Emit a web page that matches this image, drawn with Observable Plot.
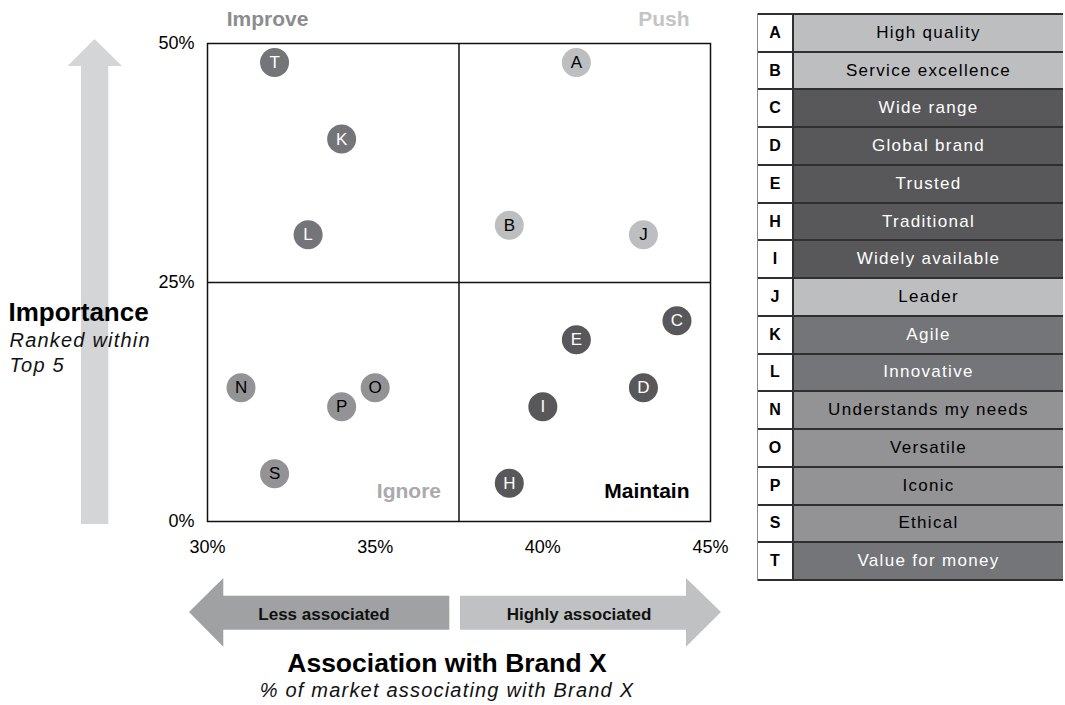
<!DOCTYPE html>
<html>
<head>
<meta charset="utf-8">
<script src="https://cdn.jsdelivr.net/npm/d3@7"></script>
<script src="https://cdn.jsdelivr.net/npm/@observablehq/plot@0.6"></script>
<style>
  body { margin: 0; background: #fff; font-family: "Liberation Sans", Arial, sans-serif; }
  #chart { position: relative; width: 1065px; height: 705px; overflow: hidden; }
  #chart > svg { position: absolute; left: 0; top: 0; }
  #key {
    position: absolute; left: 757px; top: 13px; width: 306px; height: 568px;
    display: grid; grid-template-columns: 34px 1fr; grid-template-rows: repeat(15, 1fr);
    column-gap: 2px; row-gap: 2px; padding: 2px 0 2px 0; box-sizing: border-box;
    background: #2f2f2f; border-left: 1px solid #8a8a8a;
  }
  #key .code {
    background: #fff; color: #000; font-weight: bold; font-size: 16px;
    display: flex; align-items: center; justify-content: center;
  }
  #key .name {
    font-size: 17px; letter-spacing: 1.3px;
    display: flex; align-items: center; justify-content: center;
  }
</style>
</head>
<body>
<div id="chart"></div>
<script>
// Brand attributes: code, description, association with Brand X (%), importance (% ranking in top 5)
const codes = ["A", "B", "C", "D", "E", "H", "I", "J", "K", "L", "N", "O", "P", "S", "T"];
const attributes = [
  "High quality", "Service excellence", "Wide range", "Global brand", "Trusted",
  "Traditional", "Widely available", "Leader", "Agile", "Innovative",
  "Understands my needs", "Versatile", "Iconic", "Ethical", "Value for money"
];
const association = [41, 39, 44, 43, 41, 39, 40, 43, 34, 33, 31, 35, 34, 32, 32];
const importance  = [48, 31, 21, 14, 19,  4, 12, 30, 40, 30, 14, 14, 12,  5, 48];

// Axis ticks and quadrant split points
const xTicks = [30, 35, 40, 45];
const yTicks = [0, 25, 50];
const splitX = 37.5;
const splitY = 25;

// Quadrants and their colours
const quadrants = ["Push", "Maintain", "Improve", "Ignore"];
const quadrantFill = ["#bdbec0", "#58585a", "#747578", "#939395"];
const quadrantInk  = ["#000", "#fff", "#fff", "#000"];

const points = codes.map((code, i) => ({code, name: attributes[i], x: association[i], y: importance[i]}));
const quadrantOf = d => d.x >= splitX ? (d.y >= splitY ? "Push" : "Maintain") : (d.y >= splitY ? "Improve" : "Ignore");
const fillOf = d3.scaleOrdinal(quadrants, quadrantFill);
const inkOf = d3.scaleOrdinal(quadrants, quadrantInk);
const lightInk = d => inkOf(quadrantOf(d)) === "#fff";

const font = '"Liberation Sans", Arial, sans-serif';

const plot = Plot.plot({
  width: 750,
  height: 705,
  marginLeft: 207,
  marginRight: 40,
  marginTop: 43,
  marginBottom: 184,
  style: {fontFamily: font, fontSize: "18px", color: "#000", background: "transparent", overflow: "visible"},
  x: {domain: [30, 45]},
  y: {domain: [0, 50]},
  color: {domain: quadrants, range: quadrantFill},
  marks: [
    Plot.axisX({ticks: xTicks, tickFormat: d => d + "%", tickSize: 0, tickPadding: 19, label: null, fontSize: 18}),
    Plot.axisY({ticks: yTicks, tickFormat: d => d + "%", tickSize: 0, tickPadding: 13, label: null, fontSize: 18}),
    Plot.ruleX([splitX], {stroke: "#111", strokeWidth: 1.5}),
    Plot.ruleY([splitY], {stroke: "#111", strokeWidth: 1.5}),
    Plot.frame({stroke: "#111", strokeWidth: 1.5}),

    // quadrant names
    Plot.text(["Improve"], {text: d => d, frameAnchor: "top-left", dx: 60, dy: -18, lineAnchor: "bottom",
      textAnchor: "middle", fontWeight: "bold", fontSize: 21, fill: "#8c8c8e"}),
    Plot.text(["Push"], {text: d => d, frameAnchor: "top-right", dx: -21, dy: -18, lineAnchor: "bottom",
      textAnchor: "end", fontWeight: "bold", fontSize: 21, fill: "#c4c4c6"}),
    Plot.text(["Ignore"], {text: d => d, x: () => splitX, y: () => 0, dx: -18, dy: -24, lineAnchor: "bottom",
      textAnchor: "end", fontWeight: "bold", fontSize: 21, fill: "#aaaaac"}),
    Plot.text(["Maintain"], {text: d => d, frameAnchor: "bottom-right", dx: -21, dy: -24, lineAnchor: "bottom",
      textAnchor: "end", fontWeight: "bold", fontSize: 21, fill: "#000"}),

    // attribute bubbles
    Plot.dot(points, {x: "x", y: "y", r: 14.5, fill: quadrantOf, stroke: null}),
    Plot.text(points.filter(lightInk), {x: "x", y: "y", text: "code", fill: "#fff", fontSize: 17}),
    Plot.text(points.filter(d => !lightInk(d)), {x: "x", y: "y", text: "code", fill: "#000", fontSize: 17}),

    // vertical axis title
    Plot.text(["Importance"], {text: d => d, frameAnchor: "left", dx: -199, dy: 38, lineAnchor: "bottom",
      textAnchor: "start", fontWeight: "bold", fontSize: 26, fill: "#000"}),
    Plot.text(["Ranked within\nTop 5"], {text: d => d, frameAnchor: "left", dx: -198, dy: 89.7, lineAnchor: "bottom",
      textAnchor: "start", fontStyle: "italic", fontSize: 20, lineHeight: 1.285, fill: "#111",
      style: "letter-spacing:1.3px"}),

    // horizontal direction labels
    Plot.text(["Less associated"], {text: d => d, frameAnchor: "bottom", dx: -135, dy: 98.3, lineAnchor: "bottom",
      textAnchor: "middle", fontWeight: "bold", fontSize: 17, fill: "#111"}),
    Plot.text(["Highly associated"], {text: d => d, frameAnchor: "bottom", dx: 120, dy: 98.3, lineAnchor: "bottom",
      textAnchor: "middle", fontWeight: "bold", fontSize: 17, fill: "#111"}),

    // horizontal axis title
    Plot.text(["Association with Brand X"], {text: d => d, frameAnchor: "bottom", dx: -12, dy: 150.7, lineAnchor: "bottom",
      textAnchor: "middle", fontWeight: "bold", fontSize: 26.5, fill: "#000"}),
    Plot.text(["% of market associating with Brand X"], {text: d => d, frameAnchor: "bottom", dx: -12, dy: 175.7, lineAnchor: "bottom",
      textAnchor: "middle", fontStyle: "italic", fontSize: 20, fill: "#111"})
  ]
});

// letter spacing on the italic captions
d3.select(plot).selectAll("text").filter(function () {
  const t = this.textContent;
  return t.startsWith("% of market") || t.startsWith("Ranked");
}).style("letter-spacing", "1.2px");

// direction arrows, drawn underneath everything else
const deco = d3.select(plot).insert("g", ":first-child");
deco.append("path")
  .attr("d", "M94.5,39 L122,66 L108.3,66 L108.3,524 L81,524 L81,66 L67.5,66 Z")
  .attr("fill", "#d4d5d7");
deco.append("path")
  .attr("d", "M189,612 L223.3,578 L223.3,595.7 L449.3,595.7 L449.3,629.7 L223.3,629.7 L223.3,646.7 Z")
  .attr("fill", "#a0a1a3");
deco.append("path")
  .attr("d", "M721,612 L686,578 L686,595.7 L460,595.7 L460,629.7 L686,629.7 L686,646.7 Z")
  .attr("fill", "#c0c1c3");

const chart = document.getElementById("chart");
chart.appendChild(plot);

// key table of attribute codes
const key = d3.select(chart).append("div").attr("id", "key");
points.forEach(d => {
  key.append("div").attr("class", "code").text(d.code);
  key.append("div").attr("class", "name")
    .style("background", fillOf(quadrantOf(d)))
    .style("color", inkOf(quadrantOf(d)))
    .text(d.name);
});
</script>
</body>
</html>
